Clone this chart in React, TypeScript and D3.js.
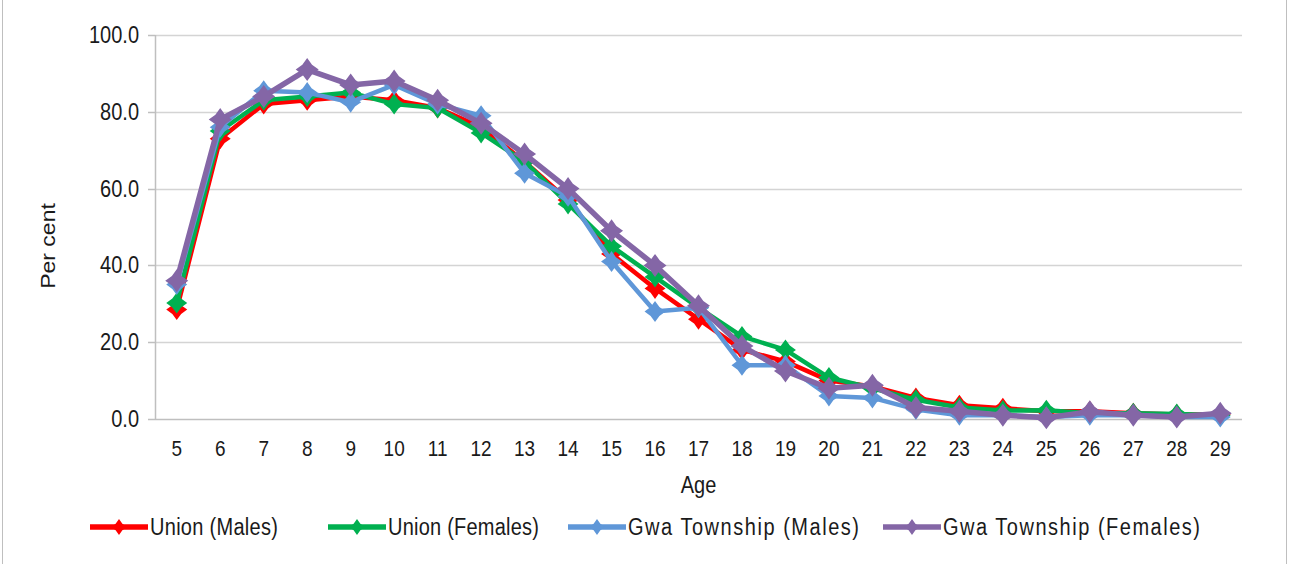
import React from "react";
import * as d3 from "d3";

const ages = ["5","6","7","8","9","10","11","12","13","14","15","16","17","18","19","20","21","22","23","24","25","26","27","28","29"];
const unionMales = [28.5,73,82,83,84,83,81,76,67,57,43,34,26,18,15,10,8.5,5.5,3.6,2.8,2,2,1.5,1.2,1.2];
const unionFemales = [30.2,75,83,84,85,82,81,74.5,67,56,45,37,29,21.5,18,10.8,8,5,3,2.2,2.3,1.5,1.5,1.3,1];
const gwaMales = [35,76,85.5,85,82.5,87,82,79,64,58,41,28,29,14,14,6,5.5,2.5,1,1,0.5,1,1,0.5,0.5];
const gwaFemales = [36,78,84,91,87,88,83,77,69,60,49,40,29.5,19,12.5,8,8.8,3,2,1,0.3,1.9,1,0.5,1.5];
const yTicks = [0,20,40,60,80,100];
const seriesNames = ["Union (Males)","Union (Females)","Gwa Township (Males)","Gwa Township (Females)"];
const seriesColors = ["#ff0000","#00b050","#5f97d8","#8466a6"];

const W = 1291, H = 564;
const left = 155, right = 1242, top = 35, bottom = 419;
const SY = 1.15;
const legendX = [90, 328, 568, 883];
const legendTextW = [128, 151, 231, 257];

function star(cx: number, cy: number, r: number) {
  const k = r * 0.42;
  return `M${cx},${cy - r} L${cx + k},${cy - k} L${cx + r},${cy} L${cx + k},${cy + k} L${cx},${cy + r} L${cx - k},${cy + k} L${cx - r},${cy} L${cx - k},${cy - k} Z`;
}

function T(props: { x: number; y: number; anchor?: string; size: number; rotate?: boolean; len?: number; children: React.ReactNode }) {
  const { x, y, anchor = "start", size, rotate, len, children } = props;
  const tr = rotate
    ? `translate(${x},${y}) rotate(-90) scale(${SY},1)`
    : `translate(${x},${y}) scale(1,${SY})`;
  return (
    <text transform={tr} textAnchor={anchor} dy="0.35em" fontSize={size} fill="#1a1a1a"
      textLength={len} lengthAdjust={len ? "spacing" : undefined}>{children}</text>
  );
}

export default function App() {
  const x = d3.scaleBand<string>().domain(ages).range([left, right]);
  const y = d3.scaleLinear().domain([0, 100]).range([bottom, top]);
  const cx = (a: string) => (x(a) as number) + x.bandwidth() / 2;
  const data = [unionMales, unionFemales, gwaMales, gwaFemales];
  const line = d3.line<number>().x((_, i) => cx(ages[i])).y(v => y(v));
  const font = "'Liberation Sans', Arial, sans-serif";
  return (
    <svg width={W} height={H} style={{ position: "absolute", left: 0, top: 0, background: "#fff" }} fontFamily={font}>
      <line x1={2.5} y1={0} x2={2.5} y2={H} stroke="#bfbfbf" />
      <line x1={1286.5} y1={0} x2={1286.5} y2={H} stroke="#bfbfbf" />
      {yTicks.map(t => (
        <g key={t}>
          {t > 0 && <line x1={left} x2={right} y1={Math.round(y(t)) + 0.5} y2={Math.round(y(t)) + 0.5} stroke="#d4d4d4" strokeWidth={1.5} />}
          <line x1={left - 7} x2={left} y1={Math.round(y(t)) + 0.5} y2={Math.round(y(t)) + 0.5} stroke="#bfbfbf" strokeWidth={1.5} />
          <T x={left - 16} y={y(t)} anchor="end" size={20}>{t.toFixed(1)}</T>
        </g>
      ))}
      <line x1={left + 0.5} x2={left + 0.5} y1={top} y2={bottom} stroke="#bfbfbf" strokeWidth={1.5} />
      <line x1={left} x2={right} y1={bottom + 0.5} y2={bottom + 0.5} stroke="#bfbfbf" strokeWidth={1.5} />
      {ages.map(a => (
        <T key={a} x={cx(a)} y={448} anchor="middle" size={19}>{a}</T>
      ))}
      <T x={(left + right) / 2} y={485} anchor="middle" size={20}>Age</T>
      <T x={48} y={(top + bottom) / 2 + 19} anchor="middle" size={20} rotate>Per cent</T>
      {data.map((d, si) => (
        <g key={si}>
          <path d={line(d) || ""} fill="none" stroke={seriesColors[si]} strokeWidth={si === 3 ? 5.5 : 4.5} strokeLinejoin="round" />
          {d.map((v, i) => (
            <path key={i} d={star(cx(ages[i]), y(v), si === 3 ? 11.5 : 10.5)} fill={seriesColors[si]} />
          ))}
        </g>
      ))}
      {seriesNames.map((n, si) => (
        <g key={n}>
          <line x1={legendX[si]} x2={legendX[si] + 58} y1={527} y2={527} stroke={seriesColors[si]} strokeWidth={5.5} />
          <path d={star(legendX[si] + 29, 527, 8)} fill={seriesColors[si]} />
          <T x={legendX[si] + 60} y={527} size={20} len={legendTextW[si]}>{n}</T>
        </g>
      ))}
    </svg>
  );
}
